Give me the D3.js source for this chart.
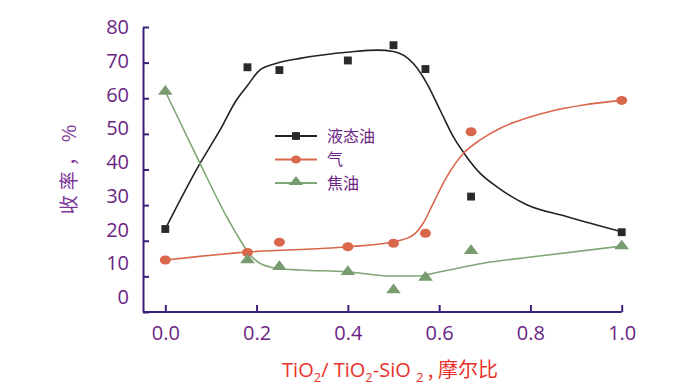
<!DOCTYPE html>
<html lang="zh">
<head>
<meta charset="UTF-8">
<title>收率</title>
<script src="https://d3js.org/d3.v7.min.js"></script>
<style>
  body { margin: 0; background: #fff; }
  text { font-family: "Open Sans", "Noto Sans CJK SC", sans-serif; }
</style>
</head>
<body>
<svg width="700" height="388" id="grafico"></svg>
<script>
// measured points
var xs = [0, 0.18, 0.25, 0.4, 0.5, 0.57, 0.67, 1.0];
var liquid = [23.3, 68.7, 67.9, 70.6, 74.9, 68.2, 32.4, 22.4];
var gas = [14.6, 16.7, 19.6, 18.3, 19.3, 22.1, 50.6, 59.4];
var coke = [61.9, 14.6, 12.7, 11.3, 6.2, 9.7, 17.2, 18.5];

// fitted curves
var liquidFitX = [0, 0.076, 0.12, 0.156, 0.178, 0.207, 0.244, 0.295, 0.405, 0.465, 0.5, 0.543, 0.573, 0.602, 0.631, 0.66, 0.69, 0.726, 0.792, 0.879, 1.0];
var liquidFitY = [23.3, 41.7, 51.1, 59.5, 63.2, 67.9, 69.8, 71.2, 73.0, 73.5, 73.1, 69.8, 64.2, 56.7, 49.2, 43.6, 38.9, 35.2, 30.1, 26.8, 22.5];
var gasFitX = [0, 0.177, 0.4, 0.5, 0.543, 0.565, 0.587, 0.617, 0.653, 0.69, 0.734, 0.77, 0.843, 0.916, 1.0];
var gasFitY = [14.6, 16.8, 18.3, 19.7, 21.6, 24.9, 30.5, 38.0, 44.5, 48.3, 51.6, 53.5, 56.3, 58.1, 59.4];
var cokeFitX = [0, 0.076, 0.135, 0.164, 0.186, 0.207, 0.244, 0.295, 0.397, 0.496, 0.551, 0.602, 0.697, 0.806, 1.0];
var cokeFitY = [61.9, 41.7, 26.6, 20.2, 16.0, 13.7, 12.3, 11.8, 11.3, 10.1, 10.1, 11.3, 13.7, 15.5, 18.5];

var xTicks = [0, 0.2, 0.4, 0.6, 0.8, 1.0];
var yTicks = [0, 10, 20, 30, 40, 50, 60, 70, 80];
var seriesNames = ["液态油", "气", "焦油"];

var axisColor = "#3b1f7a", labelColor = "#6a2584", titleColor = "#e8322b";
var colors = ["#222222", "#d9674b", "#7fa677"];
var markColors = ["#2a2a2a", "#d9674b", "#789c70"];

var svg = d3.select("svg");
var x = d3.scaleLinear().domain([0, 1]).range([165.3, 621.7]);
var y = d3.scaleLinear().domain([0, 80]).range([312, 27]);
// tick labels in the original sit a little off the ticks
var yLab = d3.scaleLinear().domain([0, 80]).range([297, 27]);
var left = 143;

// axes
var gx = svg.append("g")
    .attr("transform", "translate(0," + y(0) + ")")
    .call(d3.axisBottom(x).tickValues(xTicks).tickSizeInner(-7).tickSizeOuter(0)
        .tickPadding(14).tickFormat(d3.format(".1f")));
gx.select(".domain").attr("d", "M" + left + ",0H" + x(1));
gx.selectAll("line").attr("stroke", axisColor).attr("stroke-width", 2);
gx.select(".domain").attr("stroke", axisColor).attr("stroke-width", 2);
gx.selectAll("text").attr("fill", labelColor).style("font-size", "20px");

var gy = svg.append("g")
    .attr("transform", "translate(" + left + ",0)")
    .call(d3.axisLeft(y).tickValues(yTicks).tickSizeInner(-6).tickSizeOuter(0).tickFormat(""));
gy.selectAll("line, .domain").attr("stroke", axisColor).attr("stroke-width", 2);

svg.append("g").selectAll("text")
    .data(yTicks)
    .join("text")
    .attr("x", 129)
    .attr("y", function (d) { return yLab(d); })
    .attr("dy", "0.36em")
    .attr("text-anchor", "end")
    .attr("fill", labelColor)
    .style("font-size", "20px")
    .text(function (d) { return d; });

// axis titles
svg.append("text")
    .attr("transform", "translate(76,167) rotate(-90)")
    .attr("text-anchor", "middle")
    .attr("fill", "#7a3596")
    .style("font-family", "'Noto Sans CJK SC', sans-serif")
    .style("font-size", "19px")
    .style("letter-spacing", "5px")
    .text("收率，%");

var xt = svg.append("text")
    .attr("x", 390)
    .attr("y", 377)
    .attr("text-anchor", "middle")
    .attr("fill", titleColor)
    .style("font-size", "20px");
xt.append("tspan").text("TiO");
xt.append("tspan").attr("dy", 5).style("font-size", "13px").text("2");
xt.append("tspan").attr("dy", -5).text("/ TiO");
xt.append("tspan").attr("dy", 5).style("font-size", "13px").text("2");
xt.append("tspan").attr("dy", -5).text("-SiO ");
xt.append("tspan").attr("dy", 5).style("font-size", "13px").text("2");
xt.append("tspan").attr("dy", -5).style("font-family", "'Noto Sans CJK SC', sans-serif").text(" , 摩尔比");

// curves
var line = d3.line()
    .x(function (d) { return x(d[0]); })
    .y(function (d) { return y(d[1]); })
    .curve(d3.curveMonotoneX);

var fits = [d3.zip(liquidFitX, liquidFitY), d3.zip(gasFitX, gasFitY), d3.zip(cokeFitX, cokeFitY)];
fits.forEach(function (f, i) {
    svg.append("path").datum(f)
        .attr("fill", "none")
        .attr("stroke", colors[i])
        .attr("stroke-width", 1.6)
        .attr("d", line);
});

// markers
var sq = d3.symbol().type(d3.symbolSquare).size(62);
var tri = d3.symbol().type(d3.symbolTriangle).size(60);

svg.append("g").selectAll("path")
    .data(d3.zip(xs, liquid))
    .join("path")
    .attr("transform", function (d) { return "translate(" + x(d[0]) + "," + y(d[1]) + ")"; })
    .attr("d", sq)
    .attr("fill", markColors[0]);

svg.append("g").selectAll("ellipse")
    .data(d3.zip(xs, gas))
    .join("ellipse")
    .attr("cx", function (d) { return x(d[0]); })
    .attr("cy", function (d) { return y(d[1]); })
    .attr("rx", 5.5).attr("ry", 4.5)
    .attr("fill", markColors[1]);

svg.append("g").selectAll("path")
    .data(d3.zip(xs, coke))
    .join("path")
    .attr("transform", function (d) { return "translate(" + x(d[0]) + "," + y(d[1]) + ") scale(1.25,0.95)"; })
    .attr("d", tri)
    .attr("fill", markColors[2]);

// legend
var lg = svg.append("g").attr("transform", "translate(275,136)");
var rows = lg.selectAll("g").data(seriesNames).join("g")
    .attr("transform", function (d, i) { return "translate(0," + (i * 23.5) + ")"; });
rows.append("line").attr("x1", 0).attr("x2", 42)
    .attr("stroke", function (d, i) { return colors[i]; })
    .attr("stroke-width", 2);
rows.each(function (d, i) {
    var g = d3.select(this);
    if (i == 0) g.append("path").attr("transform", "translate(21,0)").attr("d", sq).attr("fill", markColors[0]);
    if (i == 1) g.append("ellipse").attr("cx", 21).attr("rx", 5).attr("ry", 4).attr("fill", markColors[1]);
    if (i == 2) g.append("path").attr("transform", "translate(21,-1) scale(1.2,0.9)").attr("d", tri).attr("fill", markColors[2]);
});
rows.append("text")
    .attr("x", 52)
    .attr("dy", "0.36em")
    .attr("fill", labelColor)
    .style("font-family", "'Noto Sans CJK SC', sans-serif")
    .style("font-size", "16px")
    .text(function (d) { return d; });
</script>
</body>
</html>
